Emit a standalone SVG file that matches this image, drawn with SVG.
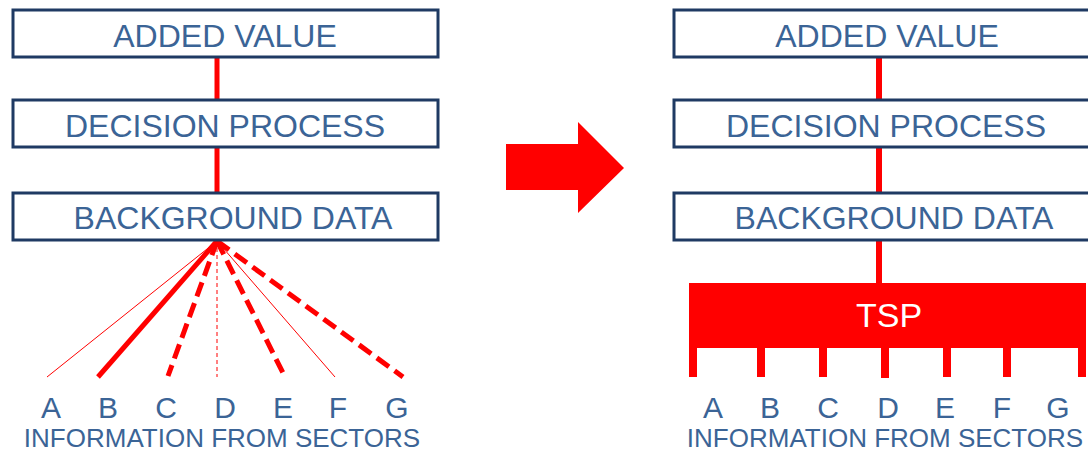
<svg xmlns="http://www.w3.org/2000/svg" width="1088" height="454" viewBox="0 0 1088 454">
  <style>
    .box { fill: #ffffff; stroke: #1f3a63; stroke-width: 3; }
    .lbl { font-family: "Liberation Sans", Arial, sans-serif; fill: #3b6496; text-anchor: middle; }
    .big { font-size: 32px; }
    .sec { font-size: 30px; }
    .foot { font-size: 26px; }
    .link { stroke: #ff0000; fill: none; }
    .red { fill: #ff0000; }
  </style>

  <rect width="1088" height="454" fill="#ffffff"/>

  <!-- connectors -->
  <g id="connectors">
    <!-- left stack -->
    <line class="link" x1="217" y1="57" x2="217" y2="100" stroke-width="5"/>
    <line class="link" x1="217" y1="147" x2="217" y2="193" stroke-width="5"/>
    <!-- fan from background data to sectors -->
    <line class="link" x1="217" y1="241" x2="47" y2="377" stroke-width="1"/>
    <line class="link" x1="217" y1="241" x2="98" y2="377" stroke-width="5"/>
    <line class="link" x1="217" y1="241" x2="168" y2="376" stroke-width="5" stroke-dasharray="15 7"/>
    <line class="link" x1="217" y1="241" x2="217" y2="377" stroke-width="1" stroke-dasharray="4 3"/>
    <line class="link" x1="217" y1="241" x2="285" y2="377" stroke-width="5" stroke-dasharray="15 7"/>
    <line class="link" x1="217" y1="241" x2="335" y2="377" stroke-width="1"/>
    <line class="link" x1="217" y1="241" x2="403" y2="377" stroke-width="5" stroke-dasharray="15 7"/>
    <!-- right stack -->
    <line class="link" x1="879" y1="57" x2="879" y2="100" stroke-width="6"/>
    <line class="link" x1="879" y1="147" x2="879" y2="193" stroke-width="6"/>
    <line class="link" x1="879" y1="240" x2="879" y2="283" stroke-width="6"/>
  </g>

  <!-- left side -->
  <g id="added-value-left">
    <rect class="box" x="13" y="10" width="425" height="47"/>
    <text class="lbl big" x="225" y="47">ADDED VALUE</text>
  </g>
  <g id="decision-process-left">
    <rect class="box" x="13" y="100" width="425" height="47"/>
    <text class="lbl big" x="225" y="137">DECISION PROCESS</text>
  </g>
  <g id="background-data-left">
    <rect class="box" x="13" y="193" width="425" height="47"/>
    <text class="lbl big" x="233" y="229">BACKGROUND DATA</text>
  </g>
  <g id="sectors-left">
    <text class="lbl sec" x="51" y="418">A</text>
    <text class="lbl sec" x="108" y="418">B</text>
    <text class="lbl sec" x="166" y="418">C</text>
    <text class="lbl sec" x="225" y="418">D</text>
    <text class="lbl sec" x="283" y="418">E</text>
    <text class="lbl sec" x="338" y="418">F</text>
    <text class="lbl sec" x="397" y="418">G</text>
    <text class="lbl foot" x="222" y="447">INFORMATION FROM SECTORS</text>
  </g>

  <!-- transition arrow -->
  <g id="arrow">
    <polygon class="red" points="506,144 578,144 578,122 624,168 578,213 578,190 506,190"/>
  </g>

  <!-- right side -->
  <g id="added-value-right">
    <rect class="box" x="674" y="10" width="425" height="47"/>
    <text class="lbl big" x="887" y="47">ADDED VALUE</text>
  </g>
  <g id="decision-process-right">
    <rect class="box" x="674" y="100" width="425" height="47"/>
    <text class="lbl big" x="886" y="137">DECISION PROCESS</text>
  </g>
  <g id="background-data-right">
    <rect class="box" x="674" y="193" width="425" height="47"/>
    <text class="lbl big" x="894" y="229">BACKGROUND DATA</text>
  </g>
  <g id="tsp">
    <rect class="red" x="689" y="283" width="397" height="65"/>
    <rect class="red" x="689" y="347" width="8" height="30"/>
    <rect class="red" x="757" y="347" width="8" height="30"/>
    <rect class="red" x="819" y="347" width="8" height="30"/>
    <rect class="red" x="881" y="347" width="8" height="31"/>
    <rect class="red" x="943" y="347" width="8" height="30"/>
    <rect class="red" x="1003" y="347" width="8" height="30"/>
    <rect class="red" x="1078" y="347" width="8" height="30"/>
    <text x="889" y="327" font-family="Liberation Sans, Arial, sans-serif" font-size="34" fill="#ffffff" text-anchor="middle">TSP</text>
  </g>
  <g id="sectors-right">
    <text class="lbl sec" x="713" y="418">A</text>
    <text class="lbl sec" x="770" y="418">B</text>
    <text class="lbl sec" x="828" y="418">C</text>
    <text class="lbl sec" x="888" y="418">D</text>
    <text class="lbl sec" x="945" y="418">E</text>
    <text class="lbl sec" x="1002" y="418">F</text>
    <text class="lbl sec" x="1058" y="418">G</text>
    <text class="lbl foot" x="885" y="447">INFORMATION FROM SECTORS</text>
  </g>
</svg>
